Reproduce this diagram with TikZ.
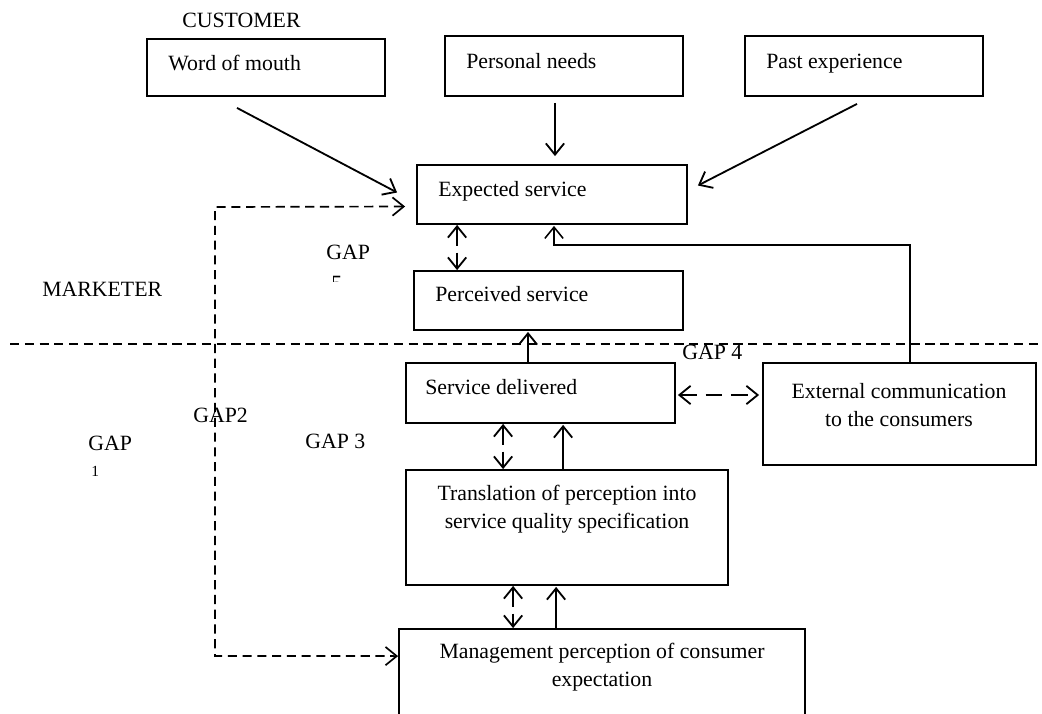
\documentclass[tikz,border=0pt]{standalone}
\usepackage{fontspec}
\setmainfont{Liberation Serif}
\usetikzlibrary{arrows.meta,fit,calc}

\tikzset{
	box/.style={draw,line width=1.3pt,inner sep=0pt},
	txt/.style={font=\fontsize{15.5}{20}\selectfont,inner sep=0pt},
	flow/.style={line width=1.3pt,-{Straight Barb[length=8pt,width=13pt]}},
	twoway/.style={line width=1.3pt,{Straight Barb[length=8pt,width=13pt]}-{Straight Barb[length=8pt,width=13pt]},dash pattern=on 13pt off 5pt},
	gapline/.style={line width=1.2pt,dash pattern=on 6.5pt off 4pt},
	sepline/.style={line width=1pt,dash pattern=on 6.5pt off 4pt}
}

\begin{document}
\begin{tikzpicture}[x=0.025cm,y=-0.025cm]
	\useasboundingbox (0,0) rectangle (1042,713);
	% boxes
	\node[box,fit={(147,39) (385,96)}] (wom) {};
	\node[box,fit={(445,36) (683,96)}] (pn) {};
	\node[box,fit={(745,36) (983,96)}] (pe) {};
	\node[box,fit={(417,165) (687,224)}] (exp) {};
	\node[box,fit={(414,271) (683,330)}] (per) {};
	\node[box,fit={(406,363) (675,423)}] (sd) {};
	\node[box,fit={(763,363) (1036,465)}] (ext) {};
	\node[box,fit={(406,470) (728,585)}] (tr) {};
	\node[box,fit={(399,629) (805,740)}] (mgmt) {};
	% texts
	\node[txt,anchor=base west] (cust) at (182,27) {CUSTOMER};
	\node[txt,anchor=base west] (womtxt) at (168,70) {Word of mouth};
	\node[txt,anchor=base west] (pntxt) at (466,68) {Personal needs};
	\node[txt,anchor=base west] (petxt) at (766,68) {Past experience};
	\node[txt,anchor=base west] (exptxt) at (438,196) {Expected service};
	\node[txt,anchor=base west] (pertxt) at (435,301) {Perceived service};
	\node[txt,anchor=base west] (sdtxt) at (425,394) {Service delivered};
	\node[txt,align=center] (exttxt) at (899,405) {External communication\\to the consumers};
	\node[txt,align=center] (trtxt) at (567,509) {Translation of perception into\\service quality specification};
	\node[txt,align=center] (mgmttxt) at (602,667) {Management perception of consumer\\expectation};
	\node[txt,anchor=base west] (mkt) at (42,296) {MARKETER};
	\node[txt,anchor=base west] (gapfive) at (326,259) {GAP};
	\begin{scope}
		\clip (320,270) rectangle (345,281);
		\node[txt,anchor=base west] (gapfivenum) at (331,290) {5};
	\end{scope}
	\node[txt,anchor=base west] (gapone) at (88,450) {GAP};
	\node[txt,anchor=base west,font=\fontsize{11}{13}\selectfont] (gaponenum) at (91,476) {1};
	\node[txt,anchor=base west] (gaptwo) at (193,422) {GAP2};
	\node[txt,anchor=base west] (gapthree) at (305,448) {GAP 3};
	\node[txt,anchor=base west] (gapfour) at (682,359) {GAP 4};
	% customer / marketer divide
	\draw[sepline] (10,344) -- (1042,344);
	% arrows into expected service
	\draw[flow] ($(wom.south)+(-29,11)$) -- ($(exp.west)+(-19,-2)$);
	\draw[flow] ($(pn.south)+(-9,6)$) -- ($(exp.north)+(3,-8)$);
	\draw[flow] ($(pe.south)+(-7,7)$) -- ($(exp.east)+(10,-9)$);
	\draw[flow,line width=1.1pt] ($(ext.north)+(10.5,0)$) |- ($(exp.south)+(2,20)$) -- ($(exp.south)+(2,1)$);
	% gap 1
	\coordinate (gonetop) at (215,207);
	\coordinate (gonebot) at (215,656);
	\draw[gapline,{Straight Barb[length=8pt,width=13pt]}-{Straight Barb[length=8pt,width=13pt]}] ($(exp.west)+(-11,12)$) -- (gonetop) -- (gonebot) -- ($(mgmt.north west)+(0,28)$);
	% gaps between the boxes
	\draw[twoway] ($(exp.south west)+(41,0)$) -- ($(per.north west)+(44,0)$);
	\draw[flow] ($(sd.north)+(-12.5,0)$) -- ($(per.south)+(-20.5,1)$);
	\draw[twoway,dash pattern=on 12pt off 6pt] ($(sd.east)+(2,2)$) -- ($(ext.west)+(-3,-19)$);
	\draw[twoway] ($(sd.south west)+(98,0)$) -- ($(tr.north west)+(98,0)$);
	\draw[flow] ($(tr.north west)+(158,0)$) -- ($(sd.south west)+(158,1)$);
	\draw[twoway] ($(tr.south west)+(108,0)$) -- ($(mgmt.north west)+(115,0)$);
	\draw[flow] ($(mgmt.north west)+(158,0)$) -- ($(tr.south west)+(151,1)$);
\end{tikzpicture}
\end{document}
